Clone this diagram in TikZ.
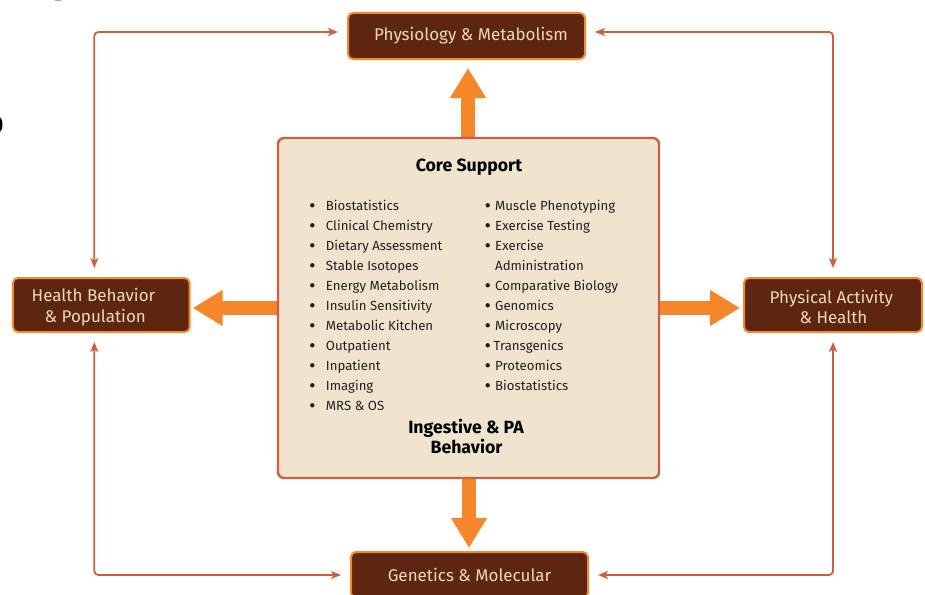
\documentclass[tikz,border=0pt]{standalone}
\usepackage{fontspec}
\setmainfont{Fira Sans}
\usetikzlibrary{arrows.meta,calc}
\definecolor{boxbrown}{HTML}{5E2611}
\definecolor{boxedge}{HTML}{F58A2A}
\definecolor{labeltext}{HTML}{EBD9B8}
\definecolor{corefill}{HTML}{F0E4CF}
\definecolor{coreedge}{HTML}{CC5F3F}
\definecolor{bigarrow}{HTML}{F5872A}
\definecolor{listtext}{HTML}{231F20}
\begin{document}
\begin{tikzpicture}[x=1pt,y=-1pt,
  areabox/.style={draw=boxedge, fill=boxbrown, line width=2pt, rounded corners=5pt,
    inner sep=0pt, minimum width=#1},
  arealabel/.style={anchor=base, inner sep=0pt, text=labeltext,
    font=\fontsize{17}{20}\selectfont},
  corebox/.style={draw=coreedge, fill=corefill, line width=2.4pt, rounded corners=6pt,
    inner sep=0pt, minimum width=381pt, minimum height=340pt},
  link/.style={draw=coreedge, line width=1.8pt, rounded corners=4pt,
    {Stealth[length=10pt,width=8pt,inset=2.5pt]}-{Stealth[length=10pt,width=8pt,inset=2.5pt]},
    shorten <=9pt, shorten >=9pt},
  flow/.style={draw=bigarrow, line width=13.5pt, -{Triangle[length=30pt,width=34pt]}},
  heading/.style={anchor=base, inner sep=0pt, text=black,
    font=\bfseries\fontsize{17.7}{20}\selectfont},
  item/.style={anchor=base west, inner sep=0pt, text=listtext,
    font=\fontsize{13.2}{20}\selectfont},
  dot/.style={circle, fill=listtext, inner sep=0pt, minimum size=4.4pt}
]
\useasboundingbox (0,0) rectangle (925,594);
\clip (0,0) rectangle (925,594);

% small marks at the top-left edge
\fill[black] (-1,124.5) ellipse [x radius=3.5, y radius=7.5];
\draw[gray!70, line width=1.2pt] (55,0.4) -- (60.5,0.4);

% research areas
\node[areabox=237pt, minimum height=46pt] (phys) at (466.5,36) {};
\node[areabox=176.7pt, minimum height=54pt] (health) at (101.3,305) {};
\node[areabox=178pt, minimum height=54pt] (pact) at (833,305) {};
\node[areabox=237pt, minimum height=46pt] (gen) at (469.5,575) {};

\node[arealabel] (physT) at (471,40.7) {Physiology \& Metabolism};
\node[arealabel] (healthT1) at (93.5,301.7) {Health Behavior};
\node[arealabel] (healthT2) at (95.3,322.7) {\& Population};
\node[arealabel] (pactT1) at (831.3,303.3) {Physical Activity};
\node[arealabel] (pactT2) at (833.5,323.3) {\& Health};
\node[arealabel] (genT) at (469.5,581.7) {Genetics \& Molecular};

% links between neighbouring areas
\draw[link] ([xshift=-7pt]health.north) |- ([yshift=4pt]phys.west);
\draw[link] (pact.north) |- ([yshift=4pt]phys.east);
\draw[link] ([xshift=-7pt]health.south) |- (gen.west);
\draw[link] (pact.south) |- (gen.east);

% core placed before its outline so the block arrows start under the border
\coordinate (c) at (468.5,308);
\path (c) ++(0,-171) coordinate (cN) (c) ++(0,171) coordinate (cS)
      (c) ++(-191.5,0) coordinate (cW) (c) ++(191.5,0) coordinate (cE);
\draw[flow, shorten >=8pt] ([xshift=-0.5pt]cN) -- ([xshift=-0.5pt]cN |- phys.south);
\draw[flow, shorten >=3pt] ([xshift=0.5pt]cS) -- ([xshift=0.5pt]cS |- gen.north);
\draw[flow, shorten >=2pt] (cW) -- (cW -| health.east);
\draw[flow, shorten >=3pt] (cE) -- (cE -| pact.west);

\node[corebox] (core) at (c) {};

\node[heading] (coreT) at (469,171.7) {Core Support};
\node[heading] (ingT1) at (466,433.3) {Ingestive \& PA};
\node[heading] (ingT2) at (466.5,453.3) {Behavior};

% left list
\foreach \t [count=\i from 0] in {Biostatistics, Clinical Chemistry, Dietary Assessment,
    Stable Isotopes, Energy Metabolism, Insulin Sensitivity, Metabolic Kitchen,
    Outpatient, Inpatient, Imaging, MRS \& OS}{
  \node[dot] (Lb\i) at (312.3,205.3+20*\i) {};
  \node[item] (L\i) at (325.7,210+20*\i) {\t};
}
% right list
\foreach \t/\b/\x [count=\i from 0] in {Muscle Phenotyping/1/495, Exercise Testing/1/495,
    Exercise/1/495, Administration/0/495, Comparative Biology/1/495, Genomics/1/495,
    Microscopy/1/495, Transgenics/1/493.5, Proteomics/1/495, Biostatistics/1/495}{
  \ifnum\b=1 \node[dot] (Rb\i) at (487.7,205.3+20*\i) {};\fi
  \node[item] (R\i) at (\x,210+20*\i) {\t};
}
\end{tikzpicture}
\end{document}
